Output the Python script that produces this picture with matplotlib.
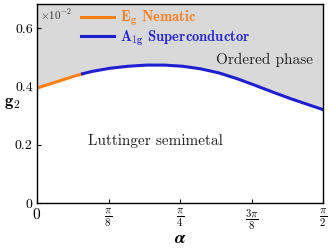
import numpy as np
import matplotlib
matplotlib.use("Agg")
import matplotlib.pyplot as plt

plt.rcParams['mathtext.fontset'] = 'cm'
plt.rcParams['font.family'] = ['cmr10', 'DejaVu Serif']
plt.rcParams['axes.unicode_minus'] = False

# boundary g2(alpha)
alpha = [0.0, 0.1, 0.2, 0.25, 0.3, 0.4, 0.5, 0.6, 0.7, 0.8, 0.9, 1.0,
         1.1, 1.2, 1.3, 1.4, 1.5, np.pi / 2]
g2 = [0.395, 0.415, 0.435, 0.444, 0.452, 0.463, 0.470, 0.474, 0.474, 0.470,
      0.461, 0.447, 0.427, 0.404, 0.380, 0.357, 0.336, 0.321]
alpha_switch = 0.25  # nematic -> superconductor

xticks = [0, np.pi / 8, np.pi / 4, 3 * np.pi / 8, np.pi / 2]
xticklabels = [r'$\mathbf{0}$', r'$\frac{\pi}{8}$', r'$\frac{\pi}{4}$',
               r'$\frac{3\pi}{8}$', r'$\frac{\pi}{2}$']
yticks = [0, 0.2, 0.4, 0.6]
yticklabels = ['0', '0.2', '0.4', '0.6']

a = np.array(alpha)
g = np.array(g2)

fig = plt.figure(figsize=(3.32, 2.49), dpi=100)
ax = fig.add_axes([37 / 332, 46 / 249, 286 / 332, 199 / 249])

ax.fill_between(a, g, 0.7, color='#d9d9d9', lw=0)
m1 = a <= alpha_switch
m2 = a >= alpha_switch
ax.plot(a[m1], g[m1], color='#ff7f0e', lw=2.2, label=r'$\mathbf{E_g}$ Nematic')
ax.plot(a[m2], g[m2], color='#1f1fd0', lw=2.2, label=r'$\mathbf{A_{1g}}$ Superconductor')

ax.set_xlim(0, np.pi / 2)
ax.set_ylim(0, 0.684)
ax.set_xticks(xticks)
ax.set_xticklabels(xticklabels, fontsize=11)
ax.set_yticks(yticks)
ax.set_yticklabels(yticklabels, fontsize=10)
ax.tick_params(direction='in', length=3, width=0.8, pad=3)
for s in ax.spines.values():
    s.set_linewidth(1.0)

ax.set_xlabel(r'$\boldsymbol{\alpha}$', fontsize=13, labelpad=-1)
fig.text(12 / 332, 1 - 103 / 249, r'$\mathbf{g_2}$', fontsize=12,
         va='center', ha='center')

leg = ax.legend(loc='upper left', frameon=False,
                prop={'family': 'cmb10', 'size': 10.5},
                handlelength=2.2, handletextpad=0.45, borderaxespad=0.0,
                labelspacing=0.0, bbox_to_anchor=(0.135, 1.005))
cols = ['#ff8020', '#2a2ad0']
for t, c in zip(leg.get_texts(), cols):
    t.set_color(c)

ax.text(0.01, 0.985, r'$\times10^{-2}$', transform=ax.transAxes,
        fontsize=8, va='top', ha='left', color='#333333')
ax.text(0.965, 0.72, 'Ordered phase', transform=ax.transAxes,
        fontsize=11, va='center', ha='right', color='#222222')
ax.text(0.18, 0.31, 'Luttinger semimetal', transform=ax.transAxes,
        fontsize=11, va='center', ha='left', color='#222222')

fig.savefig('out.png', dpi=100)
